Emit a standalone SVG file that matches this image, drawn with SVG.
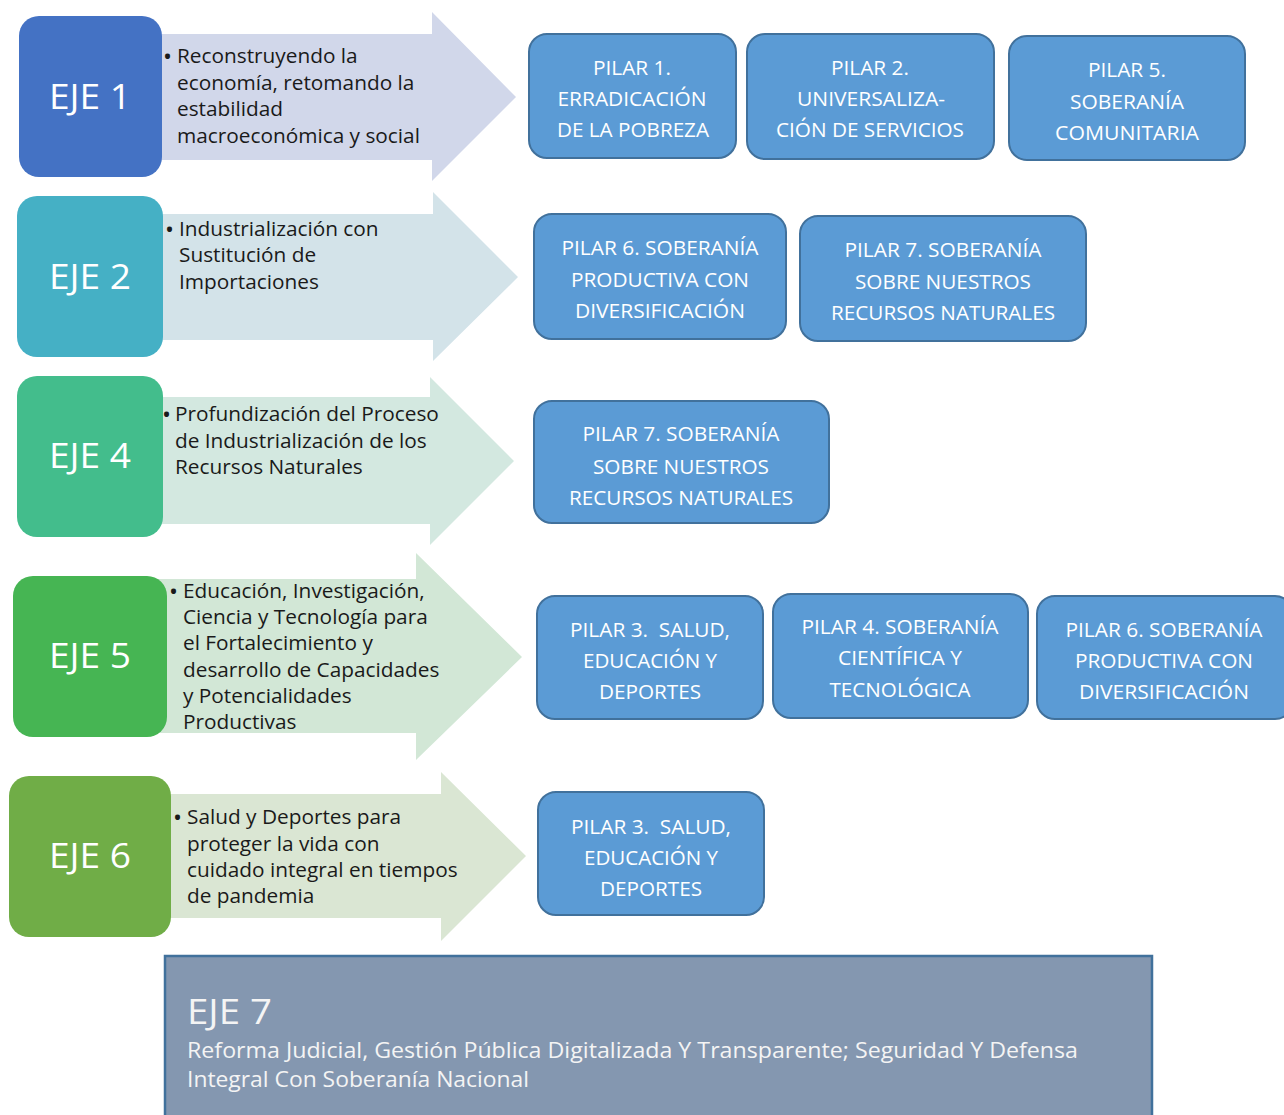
<svg xmlns="http://www.w3.org/2000/svg" width="1284" height="1115" viewBox="0 0 1284 1115">
<style>
.eje{font-family:"Open Sans","Noto Sans",sans-serif;font-size:34px;fill:#fff;text-anchor:middle}
.desc{font-family:"Open Sans","Noto Sans",sans-serif;font-size:20.8px;fill:#1a1a1a}
.bul{font-family:"Open Sans","Noto Sans",sans-serif;font-size:24px;fill:#1a1a1a}
.pbox{fill:#5B9BD5;stroke:#41719C;stroke-width:2}
.ptxt{font-family:"Open Sans","Noto Sans",sans-serif;font-size:20px;fill:#fff;text-anchor:middle}
.e7{font-family:"Open Sans","Noto Sans",sans-serif;fill:#f4f4f4}
</style>
<rect width="1284" height="1115" fill="#fff"/>
<g id="connectors">
<polygon points="150,34 432,34 432,12 516,97 432,181 432,160 150,160" fill="#D1D7EA"/>
<polygon points="150,214 433,214 433,192 518,277 433,361 433,340 150,340" fill="#D3E3E9"/>
<polygon points="150,397 430,397 430,377 514,461 430,545 430,524 150,524" fill="#D3E8E0"/>
<polygon points="150,579 416,579 416,553 522,657 416,760 416,733 150,733" fill="#D2E7D6"/>
<polygon points="150,794 441,794 441,772 526,856 441,941 441,918 150,918" fill="#DAE6D3"/>
</g>
<g id="eje1">
<rect x="19" y="16" width="143" height="161" rx="20" fill="#4472C4"/>
<text class="eje" x="90" y="109" textLength="82" lengthAdjust="spacingAndGlyphs">EJE 1</text>
<text class="bul" x="163" y="65">•</text>
<text class="desc" x="177" y="63">Reconstruyendo la</text>
<text class="desc" x="177" y="90">economía, retomando la</text>
<text class="desc" x="177" y="116">estabilidad</text>
<text class="desc" x="177" y="143">macroeconómica y social</text>
</g>
<g id="eje2">
<rect x="17" y="196" width="146" height="161" rx="20" fill="#45B0C5"/>
<text class="eje" x="90" y="289" textLength="82" lengthAdjust="spacingAndGlyphs">EJE 2</text>
<text class="bul" x="165" y="238">•</text>
<text class="desc" x="179" y="236">Industrialización con</text>
<text class="desc" x="179" y="262">Sustitución de</text>
<text class="desc" x="179" y="289">Importaciones</text>
</g>
<g id="eje4">
<rect x="17" y="376" width="146" height="161" rx="20" fill="#43BD8C"/>
<text class="eje" x="90" y="468" textLength="82" lengthAdjust="spacingAndGlyphs">EJE 4</text>
<text class="bul" x="162" y="423">•</text>
<text class="desc" x="175" y="421">Profundización del Proceso</text>
<text class="desc" x="175" y="448">de Industrialización de los</text>
<text class="desc" x="175" y="474">Recursos Naturales</text>
</g>
<g id="eje5">
<rect x="13" y="576" width="154" height="161" rx="20" fill="#46B553"/>
<text class="eje" x="90" y="668" textLength="82" lengthAdjust="spacingAndGlyphs">EJE 5</text>
<text class="bul" x="169" y="600">•</text>
<text class="desc" x="183" y="598">Educación, Investigación,</text>
<text class="desc" x="183" y="624">Ciencia y Tecnología para</text>
<text class="desc" x="183" y="650">el Fortalecimiento y</text>
<text class="desc" x="183" y="677">desarrollo de Capacidades</text>
<text class="desc" x="183" y="703">y Potencialidades</text>
<text class="desc" x="183" y="729">Productivas</text>
</g>
<g id="eje6">
<rect x="9" y="776" width="162" height="161" rx="20" fill="#70AD47"/>
<text class="eje" x="90" y="868" textLength="82" lengthAdjust="spacingAndGlyphs">EJE 6</text>
<text class="bul" x="173" y="826">•</text>
<text class="desc" x="187" y="824">Salud y Deportes para</text>
<text class="desc" x="187" y="851">proteger la vida con</text>
<text class="desc" x="187" y="877">cuidado integral en tiempos</text>
<text class="desc" x="187" y="903">de pandemia</text>
</g>
<g id="pilar1-r1">
<rect class="pbox" x="529" y="34" width="207" height="124" rx="18"/>
<text class="ptxt" x="632" y="75" textLength="78" lengthAdjust="spacingAndGlyphs">PILAR 1.</text>
<text class="ptxt" x="632" y="106" textLength="149" lengthAdjust="spacingAndGlyphs">ERRADICACIÓN</text>
<text class="ptxt" x="633" y="137" textLength="152" lengthAdjust="spacingAndGlyphs">DE LA POBREZA</text>
</g>
<g id="pilar2-r1">
<rect class="pbox" x="747" y="34" width="247" height="125" rx="18"/>
<text class="ptxt" x="870" y="75" textLength="78" lengthAdjust="spacingAndGlyphs">PILAR 2.</text>
<text class="ptxt" x="871" y="106" textLength="148" lengthAdjust="spacingAndGlyphs">UNIVERSALIZA-</text>
<text class="ptxt" x="870" y="137" textLength="188" lengthAdjust="spacingAndGlyphs">CIÓN DE SERVICIOS</text>
</g>
<g id="pilar5-r1">
<rect class="pbox" x="1009" y="36" width="236" height="124" rx="18"/>
<text class="ptxt" x="1127" y="77" textLength="78" lengthAdjust="spacingAndGlyphs">PILAR 5.</text>
<text class="ptxt" x="1127" y="109" textLength="114" lengthAdjust="spacingAndGlyphs">SOBERANÍA</text>
<text class="ptxt" x="1127" y="140" textLength="144" lengthAdjust="spacingAndGlyphs">COMUNITARIA</text>
</g>
<g id="pilar6-r2">
<rect class="pbox" x="534" y="214" width="252" height="125" rx="18"/>
<text class="ptxt" x="660" y="255" textLength="197" lengthAdjust="spacingAndGlyphs">PILAR 6. SOBERANÍA</text>
<text class="ptxt" x="660" y="287" textLength="178" lengthAdjust="spacingAndGlyphs">PRODUCTIVA CON</text>
<text class="ptxt" x="660" y="318" textLength="170" lengthAdjust="spacingAndGlyphs">DIVERSIFICACIÓN</text>
</g>
<g id="pilar7-r2">
<rect class="pbox" x="800" y="216" width="286" height="125" rx="18"/>
<text class="ptxt" x="943" y="257" textLength="197" lengthAdjust="spacingAndGlyphs">PILAR 7. SOBERANÍA</text>
<text class="ptxt" x="943" y="289" textLength="176" lengthAdjust="spacingAndGlyphs">SOBRE NUESTROS</text>
<text class="ptxt" x="943" y="320" textLength="224" lengthAdjust="spacingAndGlyphs">RECURSOS NATURALES</text>
</g>
<g id="pilar7-r3">
<rect class="pbox" x="534" y="401" width="295" height="122" rx="18"/>
<text class="ptxt" x="681" y="441" textLength="197" lengthAdjust="spacingAndGlyphs">PILAR 7. SOBERANÍA</text>
<text class="ptxt" x="681" y="474" textLength="176" lengthAdjust="spacingAndGlyphs">SOBRE NUESTROS</text>
<text class="ptxt" x="681" y="505" textLength="224" lengthAdjust="spacingAndGlyphs">RECURSOS NATURALES</text>
</g>
<g id="pilar3-r4">
<rect class="pbox" x="537" y="596" width="226" height="123" rx="18"/>
<text class="ptxt" x="650" y="637" textLength="160" lengthAdjust="spacingAndGlyphs">PILAR 3.&#160; SALUD,</text>
<text class="ptxt" x="650" y="668" textLength="134" lengthAdjust="spacingAndGlyphs">EDUCACIÓN Y</text>
<text class="ptxt" x="650" y="699" textLength="102" lengthAdjust="spacingAndGlyphs">DEPORTES</text>
</g>
<g id="pilar4-r4">
<rect class="pbox" x="773" y="594" width="255" height="124" rx="18"/>
<text class="ptxt" x="900" y="634" textLength="197" lengthAdjust="spacingAndGlyphs">PILAR 4. SOBERANÍA</text>
<text class="ptxt" x="900" y="665" textLength="124" lengthAdjust="spacingAndGlyphs">CIENTÍFICA Y</text>
<text class="ptxt" x="900" y="697" textLength="141" lengthAdjust="spacingAndGlyphs">TECNOLÓGICA</text>
</g>
<g id="pilar6-r4">
<rect class="pbox" x="1037" y="596" width="256" height="123" rx="18"/>
<text class="ptxt" x="1164" y="637" textLength="197" lengthAdjust="spacingAndGlyphs">PILAR 6. SOBERANÍA</text>
<text class="ptxt" x="1164" y="668" textLength="178" lengthAdjust="spacingAndGlyphs">PRODUCTIVA CON</text>
<text class="ptxt" x="1164" y="699" textLength="170" lengthAdjust="spacingAndGlyphs">DIVERSIFICACIÓN</text>
</g>
<g id="pilar3-r5">
<rect class="pbox" x="538" y="792" width="226" height="123" rx="18"/>
<text class="ptxt" x="651" y="834" textLength="160" lengthAdjust="spacingAndGlyphs">PILAR 3.&#160; SALUD,</text>
<text class="ptxt" x="651" y="865" textLength="134" lengthAdjust="spacingAndGlyphs">EDUCACIÓN Y</text>
<text class="ptxt" x="651" y="896" textLength="102" lengthAdjust="spacingAndGlyphs">DEPORTES</text>
</g>
<g id="eje7">
<rect x="165" y="956" width="987" height="170" fill="#8497B0" stroke="#41719C" stroke-width="2.5"/>
<text class="e7" x="187" y="1024" font-size="34" textLength="85" lengthAdjust="spacingAndGlyphs">EJE 7</text>
<text class="e7" x="187" y="1058" font-size="22" textLength="891" lengthAdjust="spacingAndGlyphs">Reforma Judicial, Gestión Pública Digitalizada Y Transparente; Seguridad Y Defensa</text>
<text class="e7" x="187" y="1087" font-size="22" textLength="342" lengthAdjust="spacingAndGlyphs">Integral Con Soberanía Nacional</text>
</g>
</svg>
